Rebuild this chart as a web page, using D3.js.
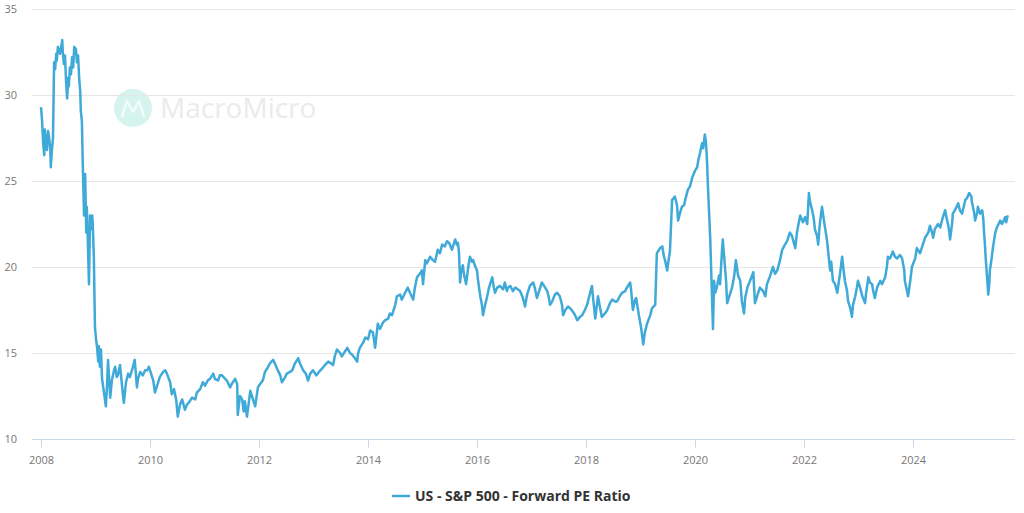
<!DOCTYPE html>
<html><head><meta charset="utf-8">
<script src="https://cdn.jsdelivr.net/npm/d3@7/dist/d3.min.js"></script>
<style>html,body{margin:0;padding:0;background:#fff;}svg{display:block;}</style>
</head><body>
<svg id="c" width="1024" height="513"></svg>
<script>
const seriesName = "US - S&P 500 - Forward PE Ratio";
const yTicks = [10, 15, 20, 25, 30, 35];
const xTicks = [2008, 2010, 2012, 2014, 2016, 2018, 2020, 2022, 2024];
// decimal years
const dates = [
2008.00,2008.02,2008.04,2008.06,2008.07,2008.09,2008.11,2008.13,2008.15,2008.17,2008.18,2008.20,2008.22,2008.24,2008.26,2008.28,2008.29,2008.31,2008.35,2008.39,
2008.40,2008.42,2008.44,2008.46,2008.48,2008.50,2008.51,2008.53,2008.55,2008.57,2008.59,2008.61,2008.62,2008.64,2008.66,2008.68,2008.70,2008.72,2008.73,2008.75,
2008.77,2008.79,2008.81,2008.83,2008.84,2008.86,2008.88,2008.90,2008.92,2008.94,2008.95,2008.97,2008.99,2009.01,2009.03,2009.05,2009.06,2009.08,2009.10,2009.12,
2009.16,2009.19,2009.21,2009.23,2009.25,2009.27,2009.30,2009.34,2009.36,2009.39,2009.41,2009.45,2009.49,2009.52,2009.56,2009.60,2009.63,2009.67,2009.72,2009.76,
2009.78,2009.82,2009.87,2009.91,2009.95,2009.98,2010.02,2010.06,2010.09,2010.13,2010.18,2010.24,2010.28,2010.31,2010.37,2010.40,2010.44,2010.48,2010.51,2010.55,
2010.59,2010.64,2010.68,2010.73,2010.77,2010.83,2010.86,2010.92,2010.97,2011.01,2011.06,2011.10,2011.16,2011.19,2011.25,2011.28,2011.32,2011.38,2011.41,2011.47,
2011.50,2011.56,2011.60,2011.61,2011.65,2011.69,2011.72,2011.74,2011.78,2011.84,2011.87,2011.93,2011.98,2012.02,2012.07,2012.11,2012.17,2012.20,2012.26,2012.29,
2012.33,2012.39,2012.42,2012.48,2012.51,2012.57,2012.61,2012.66,2012.72,2012.75,2012.81,2012.86,2012.90,2012.94,2012.99,2013.05,2013.10,2013.16,2013.21,2013.27,
2013.32,2013.36,2013.39,2013.43,2013.49,2013.52,2013.58,2013.62,2013.67,2013.71,2013.76,2013.80,2013.82,2013.85,2013.91,2013.95,2014.00,2014.04,2014.09,2014.13,
2014.18,2014.22,2014.28,2014.31,2014.37,2014.40,2014.44,2014.50,2014.53,2014.59,2014.62,2014.68,2014.73,2014.77,2014.83,2014.86,2014.90,2014.95,2014.99,2015.01,
2015.05,2015.08,2015.14,2015.19,2015.23,2015.28,2015.32,2015.36,2015.41,2015.45,2015.49,2015.54,2015.58,2015.60,2015.63,2015.65,2015.67,2015.69,2015.71,2015.74,
2015.76,2015.80,2015.84,2015.87,2015.91,2015.93,2015.96,2016.00,2016.02,2016.06,2016.09,2016.11,2016.15,2016.18,2016.22,2016.28,2016.31,2016.33,2016.37,2016.42,
2016.48,2016.51,2016.55,2016.57,2016.61,2016.66,2016.70,2016.75,2016.79,2016.83,2016.86,2016.88,2016.92,2016.94,2016.97,2017.03,2017.06,2017.10,2017.14,2017.19,
2017.23,2017.29,2017.32,2017.34,2017.38,2017.43,2017.47,2017.52,2017.56,2017.58,2017.62,2017.67,2017.71,2017.76,2017.80,2017.84,2017.89,2017.93,2017.98,2018.02,
2018.06,2018.11,2018.13,2018.17,2018.20,2018.22,2018.26,2018.29,2018.35,2018.39,2018.44,2018.48,2018.53,2018.57,2018.62,2018.66,2018.72,2018.75,2018.81,2018.83,
2018.86,2018.90,2018.92,2018.95,2018.97,2019.01,2019.05,2019.08,2019.12,2019.18,2019.21,2019.27,2019.30,2019.36,2019.40,2019.43,2019.45,2019.49,2019.52,2019.54,
2019.58,2019.63,2019.67,2019.69,2019.73,2019.76,2019.80,2019.82,2019.87,2019.91,2019.95,2020.00,2020.04,2020.06,2020.09,2020.13,2020.15,2020.18,2020.20,2020.22,
2020.24,2020.28,2020.31,2020.33,2020.35,2020.37,2020.40,2020.44,2020.46,2020.50,2020.51,2020.55,2020.57,2020.59,2020.62,2020.68,2020.72,2020.75,2020.79,2020.83,
2020.86,2020.90,2020.92,2020.96,2021.01,2021.07,2021.10,2021.14,2021.19,2021.25,2021.29,2021.32,2021.38,2021.43,2021.47,2021.51,2021.56,2021.60,2021.65,2021.69,
2021.74,2021.78,2021.84,2021.87,2021.93,2021.98,2022.02,2022.06,2022.09,2022.11,2022.15,2022.18,2022.20,2022.24,2022.26,2022.29,2022.33,2022.37,2022.39,2022.42,
2022.44,2022.48,2022.50,2022.53,2022.57,2022.61,2022.66,2022.70,2022.72,2022.75,2022.79,2022.81,2022.85,2022.88,2022.90,2022.94,2022.97,2022.99,2023.03,2023.07,
2023.12,2023.14,2023.18,2023.21,2023.25,2023.27,2023.30,2023.34,2023.40,2023.43,2023.49,2023.52,2023.54,2023.58,2023.63,2023.67,2023.71,2023.76,2023.80,2023.84,
2023.85,2023.89,2023.91,2023.95,2023.98,2024.04,2024.07,2024.13,2024.17,2024.22,2024.28,2024.31,2024.35,2024.37,2024.40,2024.46,2024.50,2024.53,2024.59,2024.62,
2024.66,2024.68,2024.72,2024.73,2024.77,2024.83,2024.86,2024.90,2024.96,2024.99,2025.03,2025.07,2025.08,2025.12,2025.14,2025.18,2025.19,2025.23,2025.27,2025.29,
2025.30,2025.32,2025.34,2025.36,2025.38,2025.40,2025.41,2025.43,2025.47,2025.51,2025.54,2025.60,2025.63,2025.65,2025.69,2025.71,2025.73,2025.74
];
const values = [
29.3,28.5,27.2,26.5,28.0,27.3,26.8,27.9,27.5,26.9,25.8,26.8,27.5,31.9,31.5,32.4,32.0,32.8,32.4,33.2,
32.5,31.8,32.3,30.8,29.8,31.0,30.5,31.6,31.2,32.2,31.6,32.8,32.4,32.7,31.9,32.3,31.0,30.2,29.1,28.5,
25.5,23.0,25.4,22.0,23.5,21.5,19.0,23.0,22.2,23.0,22.5,20.5,16.5,15.8,15.3,14.5,15.4,14.2,15.2,13.5,
12.6,11.9,13.0,14.6,13.5,12.4,13.4,14.0,14.2,13.6,13.7,14.3,13.0,12.1,13.3,13.8,13.6,14.0,14.6,13.0,
13.5,13.9,13.7,14.0,14.0,14.2,13.8,13.4,12.7,13.1,13.6,13.9,14.0,13.8,13.3,12.6,12.9,12.3,11.3,12.0,
12.3,11.7,12.0,12.2,12.4,12.3,12.7,12.9,13.3,13.1,13.4,13.5,13.8,13.5,13.4,13.7,13.7,13.5,13.4,13.0,
13.2,13.5,13.2,11.4,12.5,12.3,11.6,12.2,11.3,12.8,12.5,11.9,13.0,13.2,13.4,13.9,14.2,14.4,14.6,14.4,
14.1,13.7,13.3,13.6,13.8,13.9,14.0,14.4,14.7,14.4,14.0,13.8,13.4,13.8,14.0,13.7,13.9,14.1,14.3,14.5,
14.4,14.3,14.8,15.2,15.0,14.8,15.1,15.3,15.0,14.9,14.7,14.5,15.0,15.3,15.6,15.9,15.8,16.3,16.2,15.3,
16.7,16.4,16.8,16.9,17.0,17.3,17.2,17.8,18.3,18.4,18.1,18.5,18.8,18.5,18.1,18.8,19.4,19.6,19.8,19.0,
20.4,20.2,20.6,20.4,20.3,21.0,20.8,21.3,21.2,21.5,21.4,21.0,21.4,21.6,21.3,21.4,20.8,19.1,19.8,20.1,
19.6,19.0,20.0,20.6,20.3,20.4,20.1,19.8,19.2,18.3,17.8,17.2,17.8,18.2,18.8,19.4,18.8,18.5,18.8,18.9,
18.7,19.1,18.6,18.8,18.9,18.6,18.8,18.7,18.6,18.3,18.0,17.7,18.4,18.6,18.9,19.1,18.8,18.2,18.6,19.1,
18.9,18.6,18.2,17.8,18.0,18.4,18.5,18.3,17.8,17.2,17.5,17.7,17.6,17.4,17.2,16.9,17.1,17.2,17.5,17.8,
18.3,18.9,18.2,17.0,17.8,18.3,17.6,17.1,17.3,17.5,17.9,18.1,18.0,18.0,18.3,18.5,18.6,18.8,19.1,18.6,
17.5,18.1,18.2,17.6,17.2,16.5,15.5,16.2,16.7,17.2,17.6,17.8,20.8,21.1,21.2,20.6,20.4,19.8,20.5,20.9,
23.9,24.1,23.6,22.7,23.2,23.5,23.6,23.9,24.5,24.7,25.2,25.6,25.8,26.2,26.6,27.2,26.9,27.7,27.3,26.2,
24.5,21.6,18.5,16.4,19.2,18.5,18.8,19.5,19.0,21.2,21.6,20.0,19.2,17.9,18.2,18.8,19.5,20.4,19.5,19.2,
18.0,17.3,18.2,18.8,19.2,19.7,17.9,18.3,18.8,18.6,18.3,19.0,19.5,20.0,19.6,19.8,20.4,21.0,21.3,21.5,
22.0,21.8,21.1,22.0,23.0,22.6,22.9,22.5,24.3,23.8,23.3,22.8,22.2,21.8,21.3,22.5,23.5,22.6,22.2,21.6,
21.0,19.8,20.3,19.2,19.0,18.5,19.6,20.6,20.0,19.2,18.6,18.0,17.6,17.1,17.8,18.3,18.8,19.2,18.8,18.3,
17.9,18.5,19.4,19.1,19.0,18.6,18.2,18.8,19.2,19.0,19.4,20.0,20.6,20.5,20.9,20.6,20.5,20.7,20.5,19.8,
19.2,18.6,18.3,19.2,20.0,20.5,21.1,20.8,21.2,21.7,22.0,22.4,22.0,21.7,22.2,22.5,22.3,22.7,23.3,22.8,
22.2,21.6,22.6,23.1,23.3,23.7,23.3,23.1,23.9,24.0,24.3,24.1,23.8,23.2,22.7,23.2,23.5,23.1,23.3,22.8,
22.2,21.3,20.2,19.4,18.4,19.0,19.8,20.2,21.2,22.0,22.3,22.7,22.5,22.6,22.9,22.6,22.9,23.0
];

const svg = d3.select("#c");
const plotL = 32, plotR = 1015, plotT = 9, plotB = 439;

const x = d3.scaleLinear().domain([2008, 2024]).range([41, 913]);
const y = d3.scaleLinear().domain([10, 35]).range([plotB, plotT]);

// watermark
const wm = svg.append("g");
wm.append("circle").attr("cx", 133).attr("cy", 108).attr("r", 19).attr("fill", "#d5f4ed");
wm.append("path").attr("d", "M122,117 L127,101 L133,112 L139,101 L144,117")
  .attr("fill", "none").attr("stroke", "#ffffff").attr("stroke-width", 2.5).attr("stroke-linejoin", "round").attr("opacity", 0.7);
wm.append("text").attr("x", 160).attr("y", 118).text("MacroMicro")
  .attr("font-family", "'Open Sans', sans-serif").attr("font-size", 28).attr("fill", "#ebebeb");

// grid
svg.append("g").selectAll("line").data(yTicks.filter(d => d !== 10)).join("line")
  .attr("x1", plotL).attr("x2", plotR)
  .attr("y1", d => Math.round(y(d)) + 0.5).attr("y2", d => Math.round(y(d)) + 0.5)
  .attr("stroke", "#e6e6e6").attr("stroke-width", 1);

// y labels
svg.append("g").selectAll("text").data(yTicks).join("text")
  .attr("x", 17).attr("y", d => y(d) + 4)
  .attr("text-anchor", "end")
  .attr("font-family", "'Open Sans', sans-serif").attr("font-size", 11).attr("fill", "#777")
  .text(d => d);

// x axis
const xAxis = d3.axisBottom(x).tickValues(xTicks).tickFormat(d3.format("d")).tickSize(8).tickPadding(9);
const gx = svg.append("g").attr("transform", `translate(0,${plotB + 0.5})`).call(xAxis);
gx.select(".domain").remove();
gx.insert("line", ":first-child").attr("x1", plotL).attr("x2", plotR).attr("y1", 0).attr("y2", 0)
  .attr("stroke", "#ccd6eb");
gx.selectAll(".tick line").attr("stroke", "#ccd6eb");
gx.selectAll(".tick text").attr("font-family", "'Open Sans', sans-serif").attr("font-size", 11).attr("fill", "#777");

// line
const data = dates.map((d, i) => [d, values[i]]);
const line = d3.line().x(d => x(d[0])).y(d => y(d[1]));
svg.append("path").datum(data).attr("d", line)
  .attr("fill", "none").attr("stroke", "#3fa9d8").attr("stroke-width", 2.5).attr("stroke-linejoin", "round");

// legend
const lg = svg.append("g");
lg.append("line").attr("x1", 392).attr("x2", 410).attr("y1", 496).attr("y2", 496)
  .attr("stroke", "#3fa9d8").attr("stroke-width", 2.5);
lg.append("text").attr("x", 415).attr("y", 501).text(seriesName)
  .attr("font-family", "'Open Sans', sans-serif").attr("font-weight", "bold").attr("font-size", 14).attr("fill", "#333");
</script>
</body></html>
